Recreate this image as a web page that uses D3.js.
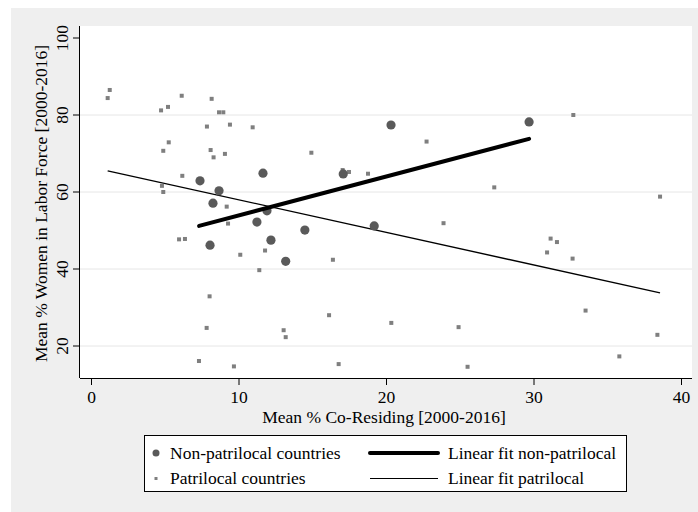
<!DOCTYPE html>
<meta charset="utf-8" />
<html lang="en">
  <head>
    <script src="https://d3js.org/d3.v7.min.js"></script>
    <style>
      body {
        margin: 0;
        background: #fff;
      }
      svg text {
        font-family: "Liberation Serif", "Times New Roman", serif;
        fill: #000;
      }
      .grid line {
        stroke: #e6e6e6;
        stroke-width: 1px;
      }
    </style>
  </head>
  <body>
    <svg width="698" height="512"></svg>
    <script>
      // non-patrilocal countries (large circles)
      var nonPatriX = [7.39, 8.68, 8.27, 11.66, 11.93, 11.25, 12.2, 8.07, 14.5, 13.2, 17.1, 20.34, 29.7, 19.2];
      var nonPatriY = [62.9, 60.3, 57.1, 64.9, 55.1, 52.2, 47.5, 46.2, 50.1, 42.0, 64.7, 77.4, 78.2, 51.2];

      // patrilocal countries (small squares)
      var patriX = [1.13, 1.27, 4.75, 5.22, 6.15, 8.18, 8.68, 8.97, 7.86, 9.42, 10.96, 5.27, 4.9, 8.11,
        8.31, 9.08, 14.94, 6.19, 4.81, 4.9, 9.2, 9.29, 5.97, 6.37, 10.12, 11.8, 16.4, 11.41, 8.04,
        7.84, 13.06, 13.2, 16.14, 7.32, 9.69, 16.79, 17.06, 17.49, 18.78, 32.7, 22.75, 27.34, 38.58,
        23.9, 31.16, 31.59, 30.92, 32.65, 33.53, 20.36, 24.92, 38.4, 35.82, 25.53];
      var patriY = [84.4, 86.5, 81.2, 82.1, 85.0, 84.2, 80.7, 80.7, 77.0, 77.5, 76.8, 72.9, 70.7, 70.9,
        69.0, 69.9, 70.2, 64.2, 61.6, 60.0, 56.2, 51.8, 47.7, 47.8, 43.7, 44.8, 42.4, 39.7, 32.9,
        24.7, 24.1, 22.3, 28.0, 16.1, 14.7, 15.3, 65.7, 65.2, 64.75, 80.0, 73.1, 61.2, 58.8,
        51.9, 47.9, 47.0, 44.3, 42.7, 29.2, 26.0, 24.9, 22.9, 17.3, 14.6];

      // linear fit end points
      var fitNonPatriX = [7.33, 29.7];
      var fitNonPatriY = [51.2, 73.8];
      var fitPatriX = [1.13, 38.58];
      var fitPatriY = [65.5, 33.8];

      var xTicks = [0, 10, 20, 30, 40];
      var yTicks = [20, 40, 60, 80, 100];
      var yGrid = [20, 40, 60, 80];

      var legendItems = ["Non-patrilocal countries", "Patrilocal countries", "Linear fit non-patrilocal", "Linear fit patrilocal"];

      var svg = d3.select("svg");
      var fs = "17.5px";

      // outer background
      svg.append("rect").attr("x", 11).attr("y", 8).attr("width", 687).attr("height", 504).attr("fill", "#efefef");

      var plot = { left: 80, right: 692, top: 26, bottom: 378 };
      svg.append("rect")
        .attr("x", plot.left).attr("y", plot.top)
        .attr("width", plot.right - plot.left).attr("height", plot.bottom - plot.top)
        .attr("fill", "#fff");

      var x = d3.scaleLinear().domain([0, 40]).range([91, 681]);
      var y = d3.scaleLinear().domain([20, 100]).range([346, 38]);

      svg.append("g").attr("class", "grid")
        .selectAll("line").data(yGrid).enter().append("line")
        .attr("x1", plot.left).attr("x2", plot.right)
        .attr("y1", d => y(d)).attr("y2", d => y(d));

      // axes
      var xAxis = svg.append("g").attr("transform", "translate(0," + plot.bottom + ")")
        .call(d3.axisBottom(x).tickValues(xTicks).tickSize(7).tickPadding(6).tickSizeOuter(0));
      xAxis.select(".domain").attr("d", "M" + plot.left + ",0.5H" + plot.right);
      xAxis.selectAll("text").style("font-size", fs);

      var yAxis = svg.append("g").attr("transform", "translate(" + plot.left + ",0)")
        .call(d3.axisLeft(y).tickValues(yTicks).tickSize(7).tickSizeOuter(0));
      yAxis.select(".domain").attr("d", "M-0.5," + plot.top + "V" + plot.bottom);
      yAxis.selectAll("text")
        .attr("x", null).attr("dy", null)
        .attr("text-anchor", "middle")
        .attr("transform", d => "translate(-12," + y(d) + ") rotate(-90)")
        .attr("y", 0)
        .style("font-size", fs);
      yAxis.selectAll(".tick").attr("transform", null);
      yAxis.selectAll(".tick line").attr("y1", d => y(d)).attr("y2", d => y(d));
      svg.selectAll(".domain, .tick line").attr("stroke", "#000");

      svg.append("text")
        .attr("transform", "translate(47,203.5) rotate(-90)")
        .attr("text-anchor", "middle").style("font-size", fs)
        .text("Mean % Women in Labor Force [2000-2016]");
      svg.append("text")
        .attr("x", 384).attr("y", 423)
        .attr("text-anchor", "middle").style("font-size", fs)
        .text("Mean % Co-Residing [2000-2016]");

      // fit lines
      var line = d3.line().x(d => x(d[0])).y(d => y(d[1]));
      svg.append("path").datum(d3.zip(fitPatriX, fitPatriY))
        .attr("d", line).attr("fill", "none").attr("stroke", "#000").attr("stroke-width", 1.4);

      // points
      svg.append("g").selectAll("rect").data(d3.zip(patriX, patriY)).enter().append("rect")
        .attr("x", d => x(d[0]) - 2).attr("y", d => y(d[1]) - 2)
        .attr("width", 4).attr("height", 4).attr("fill", "#7f7f7f");
      svg.append("g").selectAll("circle").data(d3.zip(nonPatriX, nonPatriY)).enter().append("circle")
        .attr("cx", d => x(d[0])).attr("cy", d => y(d[1])).attr("r", 4.6).attr("fill", "#5a5a5a");

      svg.append("path").datum(d3.zip(fitNonPatriX, fitNonPatriY))
        .attr("d", line).attr("fill", "none").attr("stroke", "#000").attr("stroke-width", 4).attr("stroke-linecap", "round");

      // legend
      var lg = svg.append("g");
      lg.append("rect").attr("x", 144.5).attr("y", 435.5).attr("width", 482).attr("height", 56)
        .attr("fill", "#fff").attr("stroke", "#000").attr("stroke-width", 1);
      lg.append("circle").attr("cx", 156).attr("cy", 453).attr("r", 3.5).attr("fill", "#5a5a5a");
      lg.append("rect").attr("x", 154.5).attr("y", 477).attr("width", 3).attr("height", 3).attr("fill", "#7f7f7f");
      lg.append("line").attr("x1", 370).attr("x2", 438).attr("y1", 453).attr("y2", 453)
        .attr("stroke", "#000").attr("stroke-width", 4).attr("stroke-linecap", "round");
      lg.append("line").attr("x1", 370).attr("x2", 438).attr("y1", 478.5).attr("y2", 478.5)
        .attr("stroke", "#000").attr("stroke-width", 1.2);
      var lx = [170, 170, 448, 448], ly = [459, 484, 459, 484];
      lg.selectAll("text.lab").data(legendItems).enter().append("text")
        .attr("x", (d, i) => lx[i]).attr("y", (d, i) => ly[i])
        .style("font-size", fs).text(d => d);
    </script>
  </body>
</html>
